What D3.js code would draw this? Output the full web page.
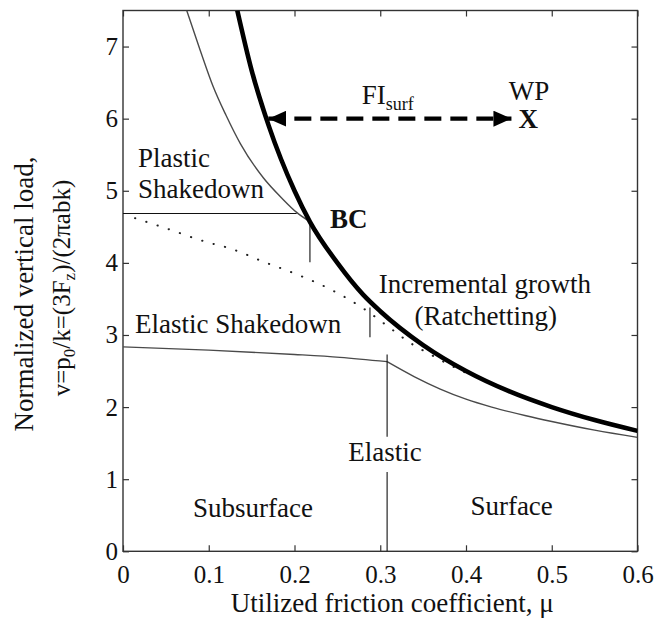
<!DOCTYPE html>
<html>
<head>
<meta charset="utf-8">
<script src="https://cdn.jsdelivr.net/npm/d3@7"></script>
<style>
  body { margin: 0; background: #fff; }
  svg text { font-family: "Liberation Serif", "DejaVu Serif", serif; fill: #111; }
</style>
</head>
<body>
<div id="chart"></div>
<script>
// tick values
const xTicks = [0, 0.1, 0.2, 0.3, 0.4, 0.5, 0.6];
const yTicks = [0, 1, 2, 3, 4, 5, 6, 7];

// boundary curves as [mu, v]
const ratchetLimit = [[0.1333, 7.5], [0.15, 6.67], [0.17, 5.9], [0.2, 5.0], [0.218, 4.57], [0.25, 4.0],
  [0.28, 3.56], [0.3, 3.33], [0.35, 2.86], [0.4, 2.5], [0.45, 2.22], [0.5, 2.0], [0.55, 1.82], [0.6, 1.67]];
const plasticLimit = [[0.0743, 7.5], [0.09, 6.95], [0.105, 6.45], [0.12, 6.05], [0.137, 5.65],
  [0.1636, 5.18], [0.185, 4.9], [0.2025, 4.7], [0.218, 4.57]];
const elasticSub = [[0, 2.835], [0.1, 2.79], [0.2, 2.73], [0.253, 2.69], [0.308, 2.63]];
const elasticSurf = [[0.308, 2.63], [0.34, 2.42], [0.37, 2.25], [0.4, 2.11], [0.43, 2.0], [0.47, 1.88],
  [0.5, 1.8], [0.55, 1.68], [0.6, 1.58]];
const dottedLimit = [[0.014, 4.62], [0.05, 4.48], [0.097, 4.29], [0.125, 4.2], [0.165, 4.01], [0.205, 3.83],
  [0.244, 3.62], [0.28, 3.37], [0.31, 3.11], [0.335, 2.89], [0.36, 2.72], [0.385, 2.56], [0.41, 2.42]];

// straight separators [mu1, v1, mu2, v2]
const segments = [
  [0, 4.685, 0.2025, 4.685],
  [0.218, 4.57, 0.218, 4.01],
  [0.288, 3.38, 0.288, 2.97],
  [0.308, 2.73, 0.308, 1.59],
  [0.308, 1.1, 0.308, 0]
];

// working point and the FI arrow
const wpV = 6;
const arrowMu = [0.1695, 0.453];

const W = 656, H = 630;
const margin = { top: 10.5, right: 18.5, bottom: 78.7, left: 123 };
const innerW = W - margin.left - margin.right;
const innerH = H - margin.top - margin.bottom;

const svg = d3.select("#chart").append("svg").attr("width", W).attr("height", H);

const x = d3.scaleLinear().domain([0, 0.6]).range([0, innerW]);
const y = d3.scaleLinear().domain([0, 7.5]).range([innerH, 0]);

const defs = svg.append("defs");
defs.append("clipPath").attr("id", "clip")
  .append("rect").attr("width", innerW).attr("height", innerH);
defs.append("marker").attr("id", "head").attr("viewBox", "0 0 18 16")
  .attr("refX", 18).attr("refY", 8).attr("markerWidth", 18).attr("markerHeight", 16)
  .attr("markerUnits", "userSpaceOnUse").attr("orient", "auto-start-reverse")
  .append("path").attr("d", "M0,0L18,8L0,16Z").attr("fill", "#000");

const g = svg.append("g").attr("transform", `translate(${margin.left},${margin.top})`);

// axes: inward ticks all round
const fmt = d => d === 0 ? "0" : d3.format(".1f")(d);
const gx = g.append("g").attr("transform", `translate(0,${innerH})`)
  .call(d3.axisBottom(x).tickValues(xTicks).tickFormat(fmt).tickSizeInner(-6).tickSizeOuter(0).tickPadding(14));
const gy = g.append("g")
  .call(d3.axisLeft(y).tickValues(yTicks).tickSizeInner(-6).tickSizeOuter(0).tickPadding(5));
const gt = g.append("g")
  .call(d3.axisTop(x).tickValues(xTicks).tickFormat("").tickSizeInner(-6).tickSizeOuter(0));
const gr = g.append("g").attr("transform", `translate(${innerW},0)`)
  .call(d3.axisRight(y).tickValues(yTicks).tickFormat("").tickSizeInner(-6).tickSizeOuter(0));
[gx, gy, gt, gr].forEach(a => {
  a.select(".domain").remove();
  a.selectAll(".tick line").attr("stroke", "#333").attr("stroke-width", 1.2);
  a.selectAll("text").attr("font-size", 25).attr("font-family", "Liberation Serif").attr("fill", "#111");
});

g.append("rect").attr("width", innerW).attr("height", innerH)
  .attr("fill", "none").attr("stroke", "#333").attr("stroke-width", 1.4);

const plot = g.append("g").attr("clip-path", "url(#clip)");
const line = d3.line().x(d => x(d[0])).y(d => y(d[1])).curve(d3.curveMonotoneX);

plot.append("path").datum(dottedLimit).attr("d", line)
  .attr("fill", "none").attr("stroke", "#222").attr("stroke-width", 2)
  .attr("stroke-linecap", "round").attr("stroke-dasharray", "0.3,11.5");

[plasticLimit, elasticSub, elasticSurf].forEach(s => {
  plot.append("path").datum(s).attr("d", line)
    .attr("fill", "none").attr("stroke", "#4a4a4a").attr("stroke-width", 1.4);
});

plot.selectAll("line.sep").data(segments).join("line").attr("class", "sep")
  .attr("x1", d => x(d[0])).attr("y1", d => y(d[1]))
  .attr("x2", d => x(d[2])).attr("y2", d => y(d[3]))
  .attr("stroke", "#111").attr("stroke-width", 1.1);

plot.append("path").datum(ratchetLimit).attr("d", line)
  .attr("fill", "none").attr("stroke", "#000").attr("stroke-width", 4.6);

// FI_surf arrow
g.append("line")
  .attr("x1", x(arrowMu[0])).attr("y1", y(wpV))
  .attr("x2", x(arrowMu[1])).attr("y2", y(wpV))
  .attr("stroke", "#000").attr("stroke-width", 4.2).attr("stroke-dasharray", "17,9")
  .attr("marker-start", "url(#head)").attr("marker-end", "url(#head)");

// region labels [text, mu, v, anchor, bold]
const labels = [
  ["Plastic", 0.0175, 5.33, "start", false],
  ["Shakedown", 0.0175, 4.894, "start", false],
  ["BC", 0.2413, 4.478, "start", true],
  ["WP", 0.4734, 6.258, "middle", false],
  ["X", 0.4725, 5.865, "middle", true],
  ["Incremental growth", 0.422, 3.576, "middle", false],
  ["(Ratchetting)", 0.423, 3.136, "middle", false],
  ["Elastic Shakedown", 0.014, 3.03, "start", false],
  ["Elastic", 0.3055, 1.249, "middle", false],
  ["Subsurface", 0.1516, 0.472, "middle", false],
  ["Surface", 0.4532, 0.5, "middle", false]
];
g.selectAll("text.lab").data(labels).join("text").attr("class", "lab")
  .attr("x", d => x(d[1])).attr("y", d => y(d[2]))
  .attr("text-anchor", d => d[3])
  .attr("font-size", 27)
  .attr("font-weight", d => d[4] ? "bold" : "normal")
  .text(d => d[0]);

const fi = g.append("text").attr("x", x(0.2783)).attr("y", y(6.21)).attr("font-size", 27);
fi.append("tspan").text("FI");
fi.append("tspan").attr("font-size", 18).attr("dy", 6).text("surf");

// axis titles
svg.append("text").attr("x", margin.left + x(0.3) + 12).attr("y", 612)
  .attr("text-anchor", "middle").attr("font-size", 27)
  .text("Utilized friction coefficient, \u03bc");

svg.append("text").attr("transform", "translate(33,294) rotate(-90)")
  .attr("text-anchor", "middle").attr("font-size", 27)
  .text("Normalized vertical load,");

const t2 = svg.append("text").attr("transform", "translate(70,288) rotate(-90)")
  .attr("text-anchor", "middle").attr("font-size", 25);
t2.append("tspan").text("v=p");
t2.append("tspan").attr("font-size", 17).attr("dy", 5).text("0");
t2.append("tspan").attr("dy", -5).text("/k=(3F");
t2.append("tspan").attr("font-size", 17).attr("dy", 5).text("z");
t2.append("tspan").attr("dy", -5).text(")/(2\u03c0abk)");
</script>
</body>
</html>
